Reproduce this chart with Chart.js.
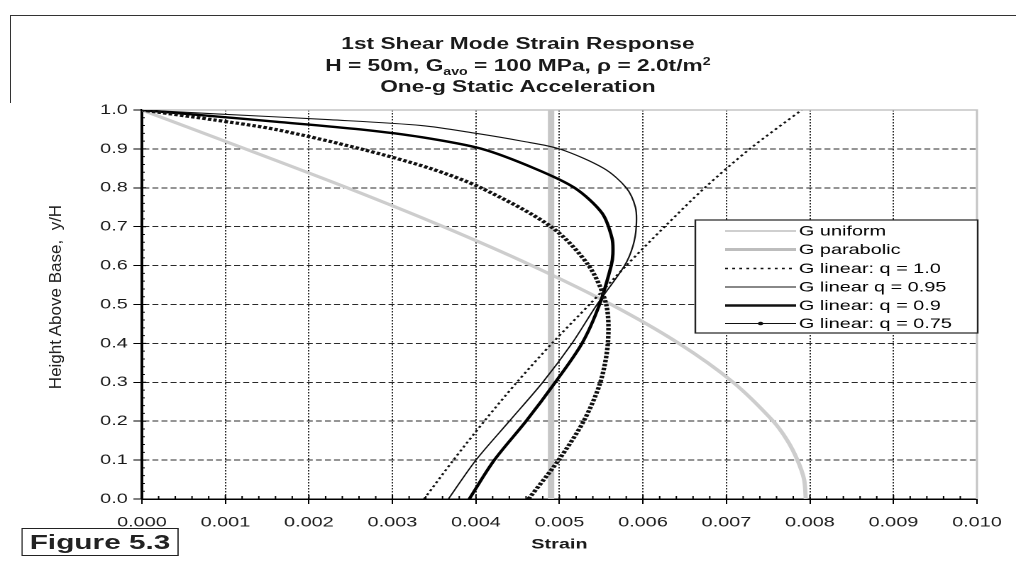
<!DOCTYPE html>
<html>
<head>
<meta charset="utf-8">
<script src="https://cdn.jsdelivr.net/npm/chart.js@4.4.1/dist/chart.umd.min.js"></script>
<style>
html,body{margin:0;padding:0;background:#fff;}
body{width:1016px;height:563px;position:relative;overflow:hidden;font-family:"Liberation Sans",Arial,sans-serif;}
#stretch{position:absolute;left:0;top:0;width:716px;height:563px;transform:scaleX(1.419);transform-origin:0 0;}
#chartBox{position:absolute;left:0;top:0;width:716px;height:563px;}
.t{position:absolute;left:65px;width:600px;text-align:center;font-weight:bold;font-size:16px;color:#1a1a1a;line-height:20px;white-space:nowrap;}
.sub{font-size:10px;position:relative;top:4px;}
.sup{font-size:10px;position:relative;top:-6px;}
#fig{position:absolute;left:15px;top:528px;width:111px;height:28px;box-sizing:border-box;border:1.5px solid #222;font-weight:bold;font-size:21px;line-height:25px;text-align:center;color:#222;}
#ylab{position:absolute;left:-94px;top:287px;width:300px;height:20px;line-height:20px;text-align:center;font-size:17px;color:#222;transform:rotate(-90deg);transform-origin:50% 50%;white-space:nowrap;}
#frameTop{position:absolute;left:10px;top:15px;width:1006px;height:1px;background:#333;}
#frameLeft{position:absolute;left:10px;top:15px;width:1px;height:88px;background:#333;}
</style>
</head>
<body>
<div id="frameTop"></div>
<div id="frameLeft"></div>
<div id="stretch">
  <div id="chartBox"><canvas id="c"></canvas></div>
  <div class="t" style="top:34px;">1st Shear Mode Strain Response</div>
  <div class="t" style="top:56px;">H = 50m, G<span class="sub">avo</span> = 100 MPa, &rho; = 2.0t/m<span class="sup">2</span></div>
  <div class="t" style="top:77px;">One-g Static Acceleration</div>
  <div id="fig">Figure 5.3</div>
</div>
<div id="ylab">Height Above Base,&nbsp; y/H</div>
<script>
// ---- tick labels ----
const xTickLabels = ['0.000','0.001','0.002','0.003','0.004','0.005','0.006','0.007','0.008','0.009','0.010'];
const yTickLabels = ['0.0','0.1','0.2','0.3','0.4','0.5','0.6','0.7','0.8','0.9','1.0'];

// ---- series (strain vs height y/H) ----
const uniformStrain = [0.00795,0.00793,0.00785,0.00773,0.00756,0.00708,0.00643,0.00562,0.00467,0.00361,0.00246,0.00124,0.0];
const uniformHeight = [0.0,0.05,0.1,0.15,0.2,0.3,0.4,0.5,0.6,0.7,0.8,0.9,1.0];

const parabolicStrain = [0.0049,0.0049];
const parabolicHeight = [0.0,1.0];

const q100Strain = [0.00338,0.00373,0.00410,0.00449,0.00491,0.00536,0.00580,0.00626,0.00674,0.00728,0.00790];
const q100Height = [0.0,0.1,0.2,0.3,0.4,0.5,0.6,0.7,0.8,0.9,1.0];

const q095Strain = [0.00367,0.00400,0.00440,0.00480,0.00515,0.00545,0.00578,0.00588,0.00592,0.00591,0.00580,0.00553,0.00500,0.00455,0.00400,0.00335,0.00225,0.00090,0.0];
const q095Height = [0.0,0.1,0.2,0.3,0.4,0.5,0.6,0.65,0.7,0.75,0.8,0.85,0.9,0.92,0.94,0.96,0.975,0.99,1.0];

const q090Strain = [0.00392,0.00422,0.00460,0.00495,0.00527,0.00548,0.00562,0.00564,0.00563,0.00551,0.00518,0.00470,0.00407,0.00335,0.00262,0.00160,0.00080,0.0];
const q090Height = [0.0,0.1,0.2,0.3,0.4,0.5,0.6,0.63,0.67,0.735,0.8,0.85,0.9,0.93,0.95,0.97,0.985,1.0];

const q075Strain = [0.00463,0.00499,0.00529,0.00549,0.00558,0.00556,0.00535,0.00490,0.00406,0.00345,0.00262,0.00160,0.00085,0.0];
const q075Height = [0.0,0.1,0.2,0.3,0.4,0.5,0.6,0.7,0.8,0.85,0.9,0.95,0.975,1.0];

const seriesNames = ['G uniform','G parabolic','G linear: q = 1.0','G linear q = 0.95','G linear: q = 0.9','G linear: q = 0.75'];

function pts(xs, ys){ return xs.map((x,i)=>({x:x, y:ys[i]})); }

const FONT = '"Liberation Sans", Arial, sans-serif';

const legendStyles = [
  {color:'#cfcfcf', width:2, dash:[]},
  {color:'#bdbdbd', width:3, dash:[]},
  {color:'#111', width:1.6, dash:[2,3]},
  {color:'#111', width:1, dash:[]},
  {color:'#111', width:2.6, dash:[]},
  {color:'#111', width:1, dash:[], marker:true}
];

const extrasPlugin = {
  id:'extras',
  beforeDatasetsDraw(chart){
    const {ctx, chartArea:a} = chart;
    ctx.save();
    ctx.strokeStyle = '#c4c4c4';
    ctx.lineWidth = 1.5;
    ctx.beginPath();
    ctx.moveTo(a.left, a.top); ctx.lineTo(a.right, a.top); ctx.lineTo(a.right, a.bottom);
    ctx.stroke();
    ctx.restore();
  },
  afterDraw(chart){
    const {ctx, chartArea:a, scales} = chart;
    const xs = scales.x, ys = scales.y;
    ctx.save();
    ctx.strokeStyle = '#000';
    ctx.lineWidth = 1;
    ctx.beginPath();
    for (let i=1;i<50;i++){
      const px = xs.getPixelForValue(i*0.0002);
      const len = (i%5===0) ? 4 : 3;
      ctx.moveTo(px, a.bottom); ctx.lineTo(px, a.bottom-len);
    }
    for (let i=1;i<50;i++){
      const py = ys.getPixelForValue(i*0.02);
      const len = (i%5===0) ? 3 : 2;
      ctx.moveTo(a.left, py); ctx.lineTo(a.left+len, py);
    }
    ctx.stroke();

    // legend
    const bx = 490, by = 220, bw = 199, bh = 113;
    ctx.fillStyle = '#fff';
    ctx.fillRect(bx, by, bw, bh);
    ctx.strokeStyle = '#222';
    ctx.lineWidth = 1.2;
    ctx.strokeRect(bx, by, bw, bh);
    const rows = [231, 249.5, 268.5, 287, 305.5, 323.5];
    ctx.font = '14px ' + FONT;
    ctx.textBaseline = 'middle';
    ctx.textAlign = 'left';
    seriesNames.forEach((name, i)=>{
      const st = legendStyles[i];
      const y = rows[i];
      ctx.save();
      ctx.strokeStyle = st.color;
      ctx.lineWidth = st.width;
      ctx.setLineDash(st.dash);
      ctx.beginPath(); ctx.moveTo(511, y); ctx.lineTo(561, y); ctx.stroke();
      if (st.marker){
        ctx.setLineDash([]);
        ctx.fillStyle = '#111';
        ctx.beginPath(); ctx.arc(536, y, 1.8, 0, Math.PI*2); ctx.fill();
      }
      ctx.restore();
      ctx.fillStyle = '#000';
      ctx.fillText(name, 563, y+0.5);
    });
    ctx.restore();
  }
};

new Chart(document.getElementById('c'), {
  type:'scatter',
  data:{
    datasets:[
      {label:seriesNames[0], data:pts(uniformStrain, uniformHeight), borderColor:'#cdcdcd', borderWidth:3, order:10},
      {label:seriesNames[1], data:pts(parabolicStrain, parabolicHeight), borderColor:'#c6c6c6', borderWidth:4.5, order:9, tension:0},
      {label:seriesNames[2], data:pts(q100Strain, q100Height), borderColor:'#111', borderWidth:1.7, borderDash:[2,2.5], order:4},
      {label:seriesNames[3], data:pts(q095Strain, q095Height), borderColor:'#111', borderWidth:1.1, order:3},
      {label:seriesNames[4], data:pts(q090Strain, q090Height), borderColor:'#000', borderWidth:2.4, order:2},
      {label:seriesNames[5], data:pts(q075Strain, q075Height), borderColor:'#111', borderWidth:3.2, borderDash:[2.5,1.5], order:1}
    ].map(d=>Object.assign({showLine:true, pointRadius:0, pointHoverRadius:0, fill:false, tension:0.3, backgroundColor:'transparent'}, d))
  },
  options:{
    responsive:true,
    maintainAspectRatio:false,
    devicePixelRatio:2,
    animation:false,
    events:[],
    elements:{line:{capBezierPoints:false}},
    layout:{padding:{left:0, right:21, top:110, bottom:0}},
    plugins:{legend:{display:false}, tooltip:{enabled:false}, title:{display:false}},
    scales:{
      x:{
        type:'linear', min:0, max:0.01,
        ticks:{stepSize:0.001, autoSkip:false, maxRotation:0, padding:10, color:'#1a1a1a', font:{family:FONT, size:14},
          callback:(v,i)=>xTickLabels[i]},
        grid:{color:(c)=> (c.index===0 || c.index===10) ? 'rgba(0,0,0,0)' : '#2a2a2a', lineWidth:1, tickColor:'#000', tickLength:5, tickWidth:1},
        border:{display:true, color:'#000', width:1.5, dash:[1.5,1.5]},
        title:{display:true, text:'Strain', color:'#1a1a1a', font:{family:FONT, size:14, weight:'bold'}, padding:{top:0, bottom:10}},
        afterFit:(s)=>{ s.height = 64; }
      },
      y:{
        type:'linear', min:0, max:1,
        ticks:{stepSize:0.1, autoSkip:false, padding:4, color:'#1a1a1a', font:{family:FONT, size:14},
          callback:(v,i)=>yTickLabels[i]},
        grid:{color:(c)=> (c.index===0 || c.index===10) ? 'rgba(0,0,0,0)' : '#2a2a2a', lineWidth:1, tickColor:'#000', tickLength:6, tickWidth:1},
        border:{display:true, color:'#000', width:2, dash:[4.2,2.2]},
        afterFit:(s)=>{ s.width = 100; }
      }
    }
  },
  plugins:[extrasPlugin]
});
</script>
</body>
</html>
